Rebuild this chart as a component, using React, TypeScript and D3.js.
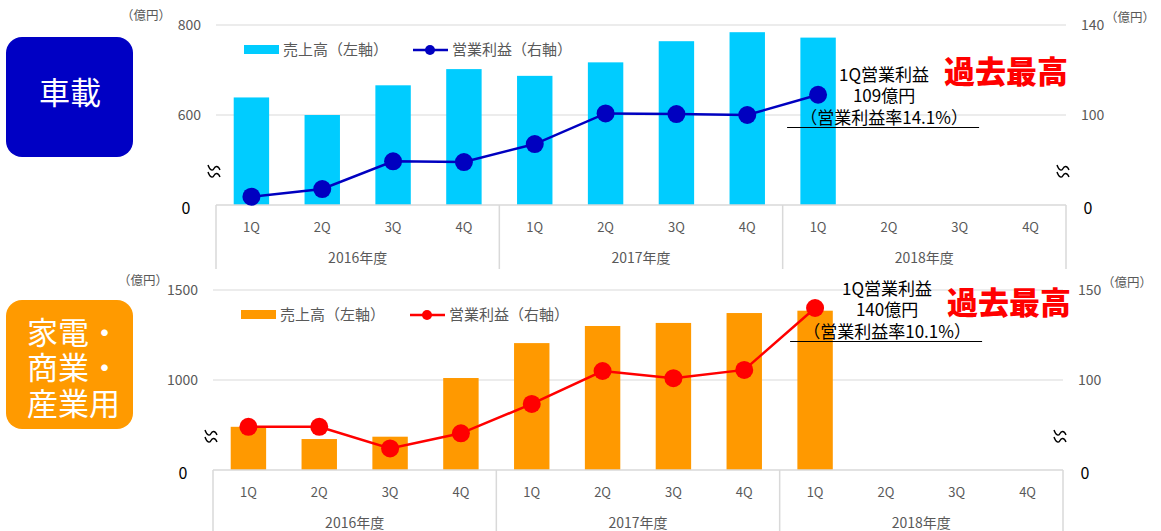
import React from "react";
import * as d3 from "d3";

const quarters = ["1Q", "2Q", "3Q", "4Q"];
const fiscalYears = ["2016年度", "2017年度", "2018年度"];

// 車載
const autoSales = [639, 600, 666, 702, 687, 717, 764, 784, 772];
const autoProfit = [63.7, 67.1, 79.4, 79.1, 87.1, 100.7, 100.4, 100, 109];
const autoLeftTicks = [600, 800];
const autoRightTicks = [100, 140];

// 家電・商業・産業用
const homeSales = [740, 672, 685, 1011, 1205, 1300, 1317, 1372, 1385];
const homeProfit = [74, 74, 62, 70.4, 86.7, 105, 101, 105.6, 140];
const homeLeftTicks = [1000, 1500];
const homeRightTicks = [100, 150];

const categories = fiscalYears.flatMap(fy => quarters.map(q => `${fy}-${q}`));

const JP = "'Noto Sans CJK JP', 'Noto Sans', sans-serif";
const GRID = "#d9d9d9";
const LABEL = "#595959";

// axis break "≈"
const BreakMark = ({ x, y }) => (
	<g transform={`translate(${x},${y})`} fill="none" stroke="#000" strokeWidth={1.4}>
		<path d="M-6,-7 C-4,-1 -1,-1 0,-3.5 C1,-6 4,-7 6,-2" />
		<path d="M-6,0 C-4,6 -1,6 0,3.5 C1,1 4,0 6,5" />
	</g>
);

const Panel = ({
	x0, x1, y0, y1, leftDomain, rightDomain, leftTicks, rightTicks,
	sales, profit, barColor, lineColor, note, noteY, lineY, lineX, recordY, recordX
}) => {
	const x = d3.scaleBand().domain(categories).range([x0, x1]).paddingInner(0.5).paddingOuter(0.25);
	const yL = d3.scaleLinear().domain(leftDomain).range([y1, y0]);
	const yR = d3.scaleLinear().domain(rightDomain).range([y1, y0]);
	const step = x.step();
	const cx = (i: number) => x(categories[i]) + x.bandwidth() / 2;
	const line = d3.line<number>().x((d, i) => cx(i)).y(d => yR(d));
	const last = profit.length - 1;
	const noteX = cx(last) + lineX;

	return (
		<g>
			{leftTicks.map(t => (
				<g key={t}>
					<line x1={x0} x2={x1} y1={yL(t)} y2={yL(t)} stroke={GRID} strokeWidth={1} />
					<text x={x0 - 15} y={yL(t)} dy="0.35em" textAnchor="end" fontSize={14} fill={LABEL}>{t}</text>
				</g>
			))}
			{rightTicks.map(t => (
				<text key={t} x={x1 + 15} y={yR(t)} dy="0.35em" fontSize={14} fill={LABEL}>{t}</text>
			))}
			<text x={x0 - 30} y={y1 + 3} dy="0.35em" textAnchor="middle" fontSize={16} fill="#000">0</text>
			<text x={x1 + 22} y={y1 + 3} dy="0.35em" textAnchor="middle" fontSize={16} fill="#000">0</text>
			<text x={x0 - 95} y={y0 - 5} fontSize={12.5} fill={LABEL}>（億円）</text>
			<text x={x1 + 39} y={y0 - 3} fontSize={12.5} fill={LABEL}>（億円）</text>

			{sales.map((v, i) => (
				<rect key={i} x={x(categories[i])} y={yL(v)} width={x.bandwidth()} height={y1 - yL(v)} fill={barColor} />
			))}

			<line x1={x0} x2={x1} y1={y1} y2={y1} stroke={GRID} strokeWidth={1.5} />
			{[0, 1, 2, 3].map(i => (
				<line key={i} x1={x0 + i * 4 * step} x2={x0 + i * 4 * step} y1={y1} y2={y1 + 64} stroke={GRID} strokeWidth={1.5} />
			))}
			{categories.map((c, i) => (
				<text key={c} x={cx(i)} y={y1 + 22} dy="0.35em" textAnchor="middle" fontSize={13} fill={LABEL}>{quarters[i % 4]}</text>
			))}
			{fiscalYears.map((fy, i) => (
				<text key={fy} x={x0 + (i * 4 + 2) * step} y={y1 + 53} dy="0.35em" textAnchor="middle" fontSize={14} fill={LABEL}>{fy}</text>
			))}

			<path d={line(profit)} fill="none" stroke={lineColor} strokeWidth={2.5} />
			{profit.map((v, i) => (
				<circle key={i} cx={cx(i)} cy={yR(v)} r={9} fill={lineColor} />
			))}

			<BreakMark x={x0 - 2} y={y1 - 33} />
			<BreakMark x={x1 - 3} y={y1 - 33} />

			<rect x={x0 + 28} y={y0 + 20} width={35} height={9} fill={barColor} />
			<text x={x0 + 67} y={y0 + 25} dy="0.35em" fontSize={15} fill={LABEL}>売上高（左軸）</text>
			<line x1={x0 + 197} x2={x0 + 232} y1={y0 + 25} y2={y0 + 25} stroke={lineColor} strokeWidth={2.5} />
			<circle cx={x0 + 214} cy={y0 + 25} r={5} fill={lineColor} />
			<text x={x0 + 236} y={y0 + 25} dy="0.35em" fontSize={15} fill={LABEL}>営業利益（右軸）</text>

			<text x={noteX} y={noteY} dy="0.35em" textAnchor="middle" fontSize={17} fill="#000">
				{note.map((t, i) => (
					<tspan key={i} x={noteX} dy={i === 0 ? "0.35em" : 21.5}>{t}</tspan>
				))}
			</text>
			<line x1={noteX - 97} x2={noteX + 95} y1={lineY} y2={lineY} stroke="#000" strokeWidth={1.2} />
			<text x={recordX} y={recordY} dy="0.35em" fontSize={31} fontWeight={900} fill="#ff0000">過去最高</text>
		</g>
	);
};

export default function App() {
	return (
		<svg width={1161} height={531} style={{ position: "absolute", left: 0, top: 0, background: "#fff" }} fontFamily={JP}>
			<rect x={6} y={37} width={127} height={120} rx={16} fill="#0000c4" />
			<text x={70} y={93} dy="0.35em" textAnchor="middle" fontSize={31} fill="#fff">車載</text>

			<rect x={6} y={300} width={127} height={129} rx={16} fill="#ff9a00" />
			<text x={27} y={333} fontSize={31} fill="#fff">
				{["家電・", "商業・", "産業用"].map((t, i) => (
					<tspan key={t} x={27} dy={i === 0 ? "0.35em" : 35.5}>{t}</tspan>
				))}
			</text>

			<Panel
				x0={216} x1={1066} y0={25} y1={205}
				leftDomain={[400, 800]} rightDomain={[60, 140]}
				leftTicks={autoLeftTicks} rightTicks={autoRightTicks}
				sales={autoSales} profit={autoProfit}
				barColor="#00ccff" lineColor="#0000c0"
				note={["1Q営業利益", "109億円", "（営業利益率14.1%）"]}
				noteY={75} lineY={127.5} lineX={66}
				recordX={944} recordY={72}
			/>
			<Panel
				x0={213} x1={1063} y0={290} y1={470}
				leftDomain={[500, 1500]} rightDomain={[50, 150]}
				leftTicks={homeLeftTicks} rightTicks={homeRightTicks}
				sales={homeSales} profit={homeProfit}
				barColor="#ff9900" lineColor="#ff0000"
				note={["1Q営業利益", "140億円", "（営業利益率10.1%）"]}
				noteY={289} lineY={341.5} lineX={72}
				recordX={947} recordY={303}
			/>
		</svg>
	);
}
